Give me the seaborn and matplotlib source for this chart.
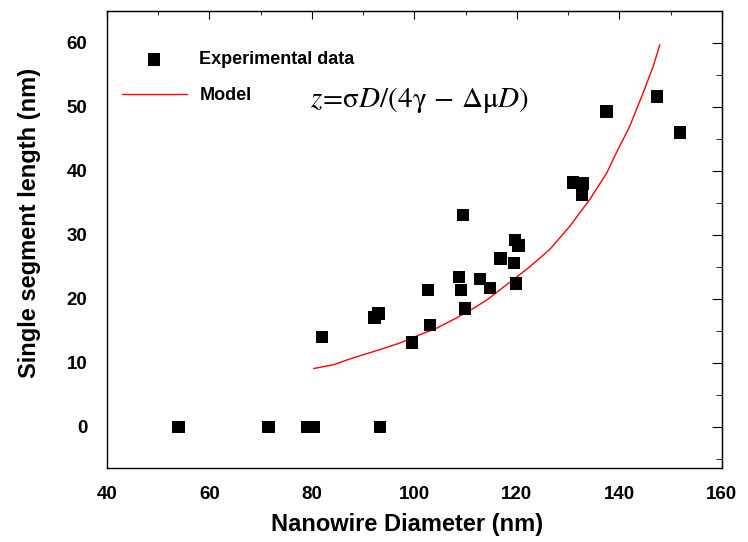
import matplotlib
matplotlib.use("Agg")
import matplotlib.pyplot as plt
import seaborn as sns
import pandas as pd

diameter = [54.0, 71.5, 79.0, 80.3, 93.3, 82.0, 92.2, 93.0, 99.5, 102.7,
            103.0, 108.7, 109.1, 109.5, 109.9, 112.8, 114.7, 116.8, 119.6,
            120.3, 119.4, 119.8, 131.0, 132.9, 132.7, 137.5, 147.3, 151.8]
length = [0.0, 0.0, 0.0, 0.0, 0.0, 14.0, 17.1, 17.7, 13.2, 21.4,
          15.9, 23.4, 21.4, 33.1, 18.5, 23.1, 21.7, 26.3, 29.2,
          28.3, 25.6, 22.4, 38.2, 38.0, 36.2, 49.3, 51.6, 46.0]

# 모델 곡선 (그림에서 읽은 점)
model_x = [80.3, 84.2, 87.4, 92.6, 97.2, 101.1, 104.3, 108.2, 111.5, 114.1,
           116.7, 122.2, 126.4, 130.3, 134.2, 137.5, 139.4, 142.0, 144.6,
           146.6, 147.9]
model_y = [9.1, 9.7, 10.6, 11.9, 13.1, 14.4, 15.4, 17.0, 18.5, 19.8,
           21.4, 24.8, 27.7, 31.3, 35.5, 39.6, 42.8, 46.9, 52.1,
           56.3, 59.7]

x_ticks = [40, 60, 80, 100, 120, 140, 160]
y_ticks = [0, 10, 20, 30, 40, 50, 60]

sns.set_style("white")
plt.rcParams['font.family'] = ['Liberation Sans', 'DejaVu Sans']
plt.rcParams['mathtext.fontset'] = 'stix'
plt.rcParams['text.color'] = 'black'
plt.rcParams['axes.labelcolor'] = 'black'
plt.rcParams['xtick.color'] = 'black'
plt.rcParams['ytick.color'] = 'black'

df = pd.DataFrame({"D": diameter, "L": length})
model = pd.DataFrame({"D": model_x, "L": model_y})

fig = plt.figure(figsize=(7.48, 5.42), dpi=100)
ax = fig.add_axes([0.143, 0.137, 0.822, 0.843])

sns.scatterplot(data=df, x="D", y="L", marker="s", s=80, color="black",
                edgecolor="none", label="Experimental data", ax=ax, zorder=3)
sns.lineplot(data=model, x="D", y="L", color="red", linewidth=1,
             label="Model", ax=ax, estimator=None)

ax.set_xlim(40, 160)
ax.set_ylim(-6.4, 65)
ax.set_xticks(x_ticks)
ax.set_yticks(y_ticks)
ax.set_xticks(range(50, 160, 20), minor=True)
ax.set_yticks(range(-5, 65, 10), minor=True)
ax.tick_params(which='both', direction='out', labelsize=13.5, width=1)
ax.tick_params(which='major', length=6)
ax.tick_params(which='minor', length=3.5)
ax.tick_params(axis='y', pad=8)
ax.tick_params(axis='x', pad=7)
for lab in ax.get_xticklabels() + ax.get_yticklabels():
    lab.set_fontweight('bold')

for sp in ax.spines.values():
    sp.set_color('black')
    sp.set_linewidth(1)

# 위/오른쪽 눈금은 안쪽으로
top = ax.secondary_xaxis('top')
top.set_xticks(x_ticks)
top.set_xticks(range(50, 160, 20), minor=True)
top.tick_params(which='both', direction='in', labeltop=False)
top.tick_params(which='major', length=6)
top.tick_params(which='minor', length=3)
right = ax.secondary_yaxis('right')
right.set_yticks(y_ticks)
right.set_yticks(range(-5, 65, 10), minor=True)
right.tick_params(which='both', direction='in', labelright=False)
right.tick_params(which='major', length=7)
right.tick_params(which='minor', length=4.5)

ax.set_xlabel("Nanowire Diameter (nm)", fontsize=17, fontweight='bold')
ax.set_ylabel("Single segment length (nm)", fontsize=17, fontweight='bold')
ax.xaxis.set_label_coords(0.488, -0.099)
ax.yaxis.set_label_coords(-0.108, 0.536)

ax.legend(loc='upper left', bbox_to_anchor=(0.024, 0.912), frameon=False,
          handlelength=3.6, handletextpad=0.7, labelspacing=1.05,
          borderpad=0, borderaxespad=0, prop={'weight': 'bold', 'size': 13})

# 식
ax.text(0.509, 0.805, r'$z\!=\!\mathrm{\sigma}D/\left(4\mathrm{\gamma}\,-\,\mathrm{\Delta\mu}D\right)$',
        transform=ax.transAxes, fontsize=21, ha='center', va='center')

fig.savefig("out.png", dpi=100)
